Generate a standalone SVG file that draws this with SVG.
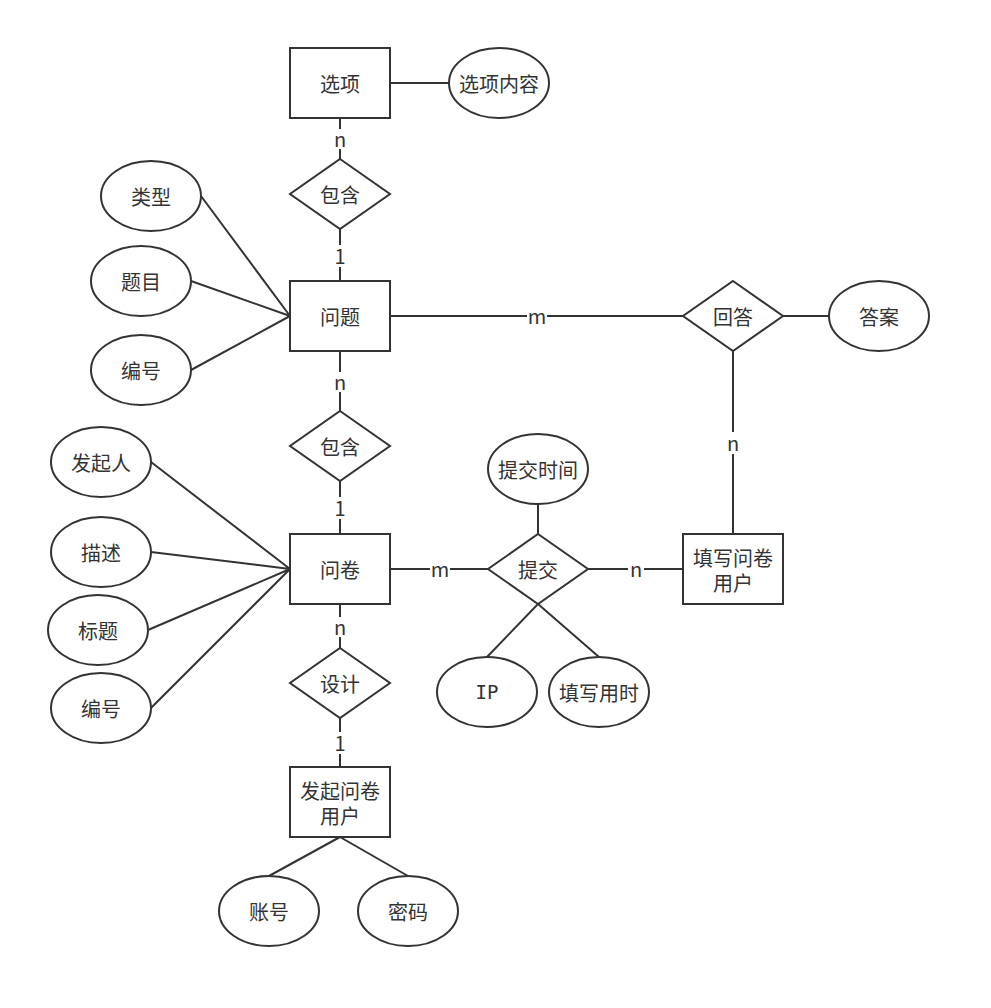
<svg xmlns="http://www.w3.org/2000/svg" width="991" height="1008" viewBox="0 0 991 1008">
<style>
.s{fill:#fff;stroke:#333;stroke-width:2}
.l{stroke:#333;stroke-width:2;fill:none}
text{font-family:"Noto Sans CJK SC","Noto Sans",sans-serif;font-size:20px;fill:#333;text-anchor:middle;dominant-baseline:central}
.bg{fill:#fff}
.mono{font-family:"DejaVu Sans Mono","Liberation Mono",monospace;font-size:19px}
</style>
<rect width="991" height="1008" fill="#fff"/>
<g id="connectors">
<path class="l" d="M390,83H449"/>
<path class="l" d="M340,118V159"/>
<path class="l" d="M340,229V281"/>
<path class="l" d="M201,196L290,316M191,281L290,316M191,370L290,316"/>
<path class="l" d="M390,316H683"/>
<path class="l" d="M783,316H829"/>
<path class="l" d="M733,351V534"/>
<path class="l" d="M340,351V411"/>
<path class="l" d="M340,481V534"/>
<path class="l" d="M151,462L290,569M151,552L290,569M148,630L290,569M151,708L290,569"/>
<path class="l" d="M390,569H488"/>
<path class="l" d="M588,569H683"/>
<path class="l" d="M538,504V534"/>
<path class="l" d="M538,604L487,657M538,604L599,657"/>
<path class="l" d="M340,604V648"/>
<path class="l" d="M340,718V767"/>
<path class="l" d="M340,837L269,876M340,837L408,876"/>
<g id="labels">
<rect class="bg" x="332" y="129" width="16" height="20"/><text x="340" y="138">n</text>
<rect class="bg" x="332" y="245" width="16" height="22"/><text x="340" y="255">1</text>
<rect class="bg" x="527" y="306" width="20" height="20"/><text x="537" y="315">m</text>
<rect class="bg" x="725" y="432" width="16" height="22"/><text x="733" y="442">n</text>
<rect class="bg" x="332" y="372" width="16" height="20"/><text x="340" y="381">n</text>
<rect class="bg" x="332" y="497" width="16" height="22"/><text x="340" y="507">1</text>
<rect class="bg" x="430" y="559" width="20" height="20"/><text x="440" y="568">m</text>
<rect class="bg" x="628" y="559" width="16" height="20"/><text x="636" y="568">n</text>
<rect class="bg" x="332" y="617" width="16" height="20"/><text x="340" y="626">n</text>
<rect class="bg" x="332" y="732" width="16" height="22"/><text x="340" y="742">1</text>
</g>
</g>
<g id="选项"><rect class="s" x="290" y="48" width="100" height="70"/><text x="340" y="83">选项</text></g>
<g id="选项内容"><ellipse class="s" cx="499" cy="83" rx="50" ry="35"/><text x="499" y="83">选项内容</text></g>
<g id="包含1"><polygon class="s" points="340,159 390,194 340,229 290,194"/><text x="340" y="194">包含</text></g>
<g id="类型"><ellipse class="s" cx="151" cy="196" rx="50" ry="35"/><text x="151" y="196">类型</text></g>
<g id="题目"><ellipse class="s" cx="141" cy="281" rx="50" ry="35"/><text x="141" y="281">题目</text></g>
<g id="编号1"><ellipse class="s" cx="141" cy="370" rx="50" ry="35"/><text x="141" y="370">编号</text></g>
<g id="问题"><rect class="s" x="290" y="281" width="100" height="70"/><text x="340" y="316">问题</text></g>
<g id="回答"><polygon class="s" points="733,281 783,316 733,351 683,316"/><text x="733" y="316">回答</text></g>
<g id="答案"><ellipse class="s" cx="879" cy="316" rx="50" ry="35"/><text x="879" y="316">答案</text></g>
<g id="包含2"><polygon class="s" points="340,411 390,446 340,481 290,446"/><text x="340" y="446">包含</text></g>
<g id="发起人"><ellipse class="s" cx="101" cy="462" rx="50" ry="35"/><text x="101" y="462">发起人</text></g>
<g id="描述"><ellipse class="s" cx="101" cy="552" rx="50" ry="35"/><text x="101" y="552">描述</text></g>
<g id="标题"><ellipse class="s" cx="98" cy="630" rx="50" ry="35"/><text x="98" y="630">标题</text></g>
<g id="编号2"><ellipse class="s" cx="101" cy="708" rx="50" ry="35"/><text x="101" y="708">编号</text></g>
<g id="问卷"><rect class="s" x="290" y="534" width="100" height="70"/><text x="340" y="569">问卷</text></g>
<g id="提交时间"><ellipse class="s" cx="538" cy="469" rx="50" ry="35"/><text x="538" y="469">提交时间</text></g>
<g id="提交"><polygon class="s" points="538,534 588,569 538,604 488,569"/><text x="538" y="569">提交</text></g>
<g id="填写问卷用户"><rect class="s" x="683" y="534" width="100" height="70"/><text x="733" y="557">填写问卷<tspan x="733" dy="25">用户</tspan></text></g>
<g id="IP"><ellipse class="s" cx="487" cy="692" rx="50" ry="35"/><text class="mono" x="487" y="692">IP</text></g>
<g id="填写用时"><ellipse class="s" cx="599" cy="692" rx="50" ry="35"/><text x="599" y="692">填写用时</text></g>
<g id="设计"><polygon class="s" points="340,648 390,683 340,718 290,683"/><text x="340" y="683">设计</text></g>
<g id="发起问卷用户"><rect class="s" x="290" y="767" width="100" height="70"/><text x="340" y="790">发起问卷<tspan x="340" dy="25">用户</tspan></text></g>
<g id="账号"><ellipse class="s" cx="269" cy="911" rx="50" ry="35"/><text x="269" y="911">账号</text></g>
<g id="密码"><ellipse class="s" cx="408" cy="911" rx="50" ry="35"/><text x="408" y="911">密码</text></g>
</svg>
